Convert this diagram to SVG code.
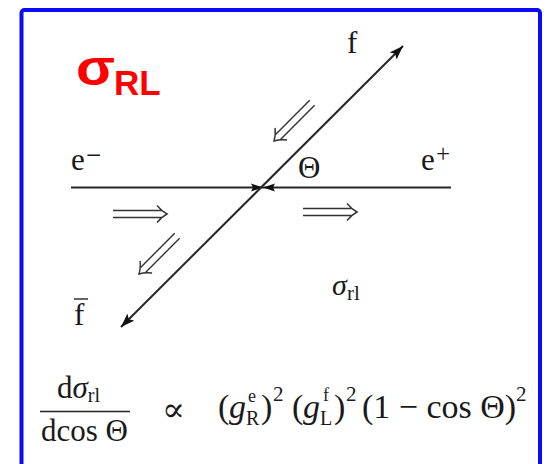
<svg xmlns="http://www.w3.org/2000/svg" xmlns:xlink="http://www.w3.org/1999/xlink" width="551" height="464" viewBox="0 0 551 464">
<style>
.serif{font-family:"Liberation Serif","DejaVu Serif",serif;fill:#1a1a1a}
.it{font-style:italic}
.ln{stroke:#262626;stroke-width:2;fill:none}
.dbl{stroke:#333;stroke-width:1.4;fill:none}
.title{font-family:"Liberation Sans",Arial,sans-serif;font-weight:bold;fill:#ff0000}
</style>
<defs>
<marker id="ah" markerUnits="userSpaceOnUse" markerWidth="16" markerHeight="12" refX="14" refY="5" orient="auto-start-reverse">
<path d="M0,0 L14,5 L0,10 L3,5 z" fill="#111"/>
</marker>
<path id="dblarrow" d="M -54 -3.5 H -5 M -54 3.5 H -5 M -10 -8.5 Q -5 -2.5 0 0 Q -5 2.5 -10 8.5"/>
</defs>
<rect x="0" y="0" width="551" height="464" fill="#fff"/>
<rect id="frame" x="21.5" y="10" width="518.5" height="480" rx="3" fill="none" stroke="#0a0af5" stroke-width="4"/>
<g id="title">
<text class="title" x="0" y="85" font-size="50" transform="translate(76,0) scale(1.14,1)">σ</text>
<text class="title" x="114" y="95" font-size="35">RL</text>
</g>
<g id="connectors">
<line id="beam" class="ln" x1="71" y1="187.5" x2="451" y2="187.5"/>
<polygon points="251,183.5 263,187.5 251,191.5 253,187.5" fill="#111"/>
<polygon points="275,183.5 263,187.5 275,191.5 273,187.5" fill="#111"/>
<line id="outgoing" class="ln" x1="121" y1="327" x2="403" y2="46" stroke-width="1.8" marker-start="url(#ah)" marker-end="url(#ah)"/>
<g class="dbl">
<use xlink:href="#dblarrow" transform="translate(167,214)"/>
<use xlink:href="#dblarrow" transform="translate(357,212)"/>
<use xlink:href="#dblarrow" transform="translate(274,141) rotate(135)"/>
<use xlink:href="#dblarrow" transform="translate(139,274) rotate(135)"/>
</g>
</g>
<g id="label-em">
<text class="serif" x="71" y="170" font-size="31">e</text>
<text class="serif" x="86" y="164" font-size="27">−</text>
</g>
<g id="label-ep">
<text class="serif" x="421" y="170" font-size="31">e</text>
<text class="serif" x="436" y="162" font-size="25">+</text>
</g>
<g id="label-theta"><text class="serif" x="298" y="178" font-size="31">Θ</text></g>
<g id="label-f"><text class="serif" x="347" y="53" font-size="31">f</text></g>
<g id="label-fbar">
<text class="serif" x="74" y="325" font-size="31">f</text>
<line x1="74" y1="299" x2="88" y2="299" stroke="#222" stroke-width="1.4"/>
</g>
<g id="label-sigma">
<text class="serif it" x="332" y="295" font-size="30">σ</text>
<text class="serif" x="347" y="300" font-size="21">rl</text>
</g>
<g id="equation">
<text class="serif" x="57" y="398" font-size="31">d<tspan class="it">σ</tspan><tspan font-size="20" dy="4">rl</tspan></text>
<line x1="40" y1="411.5" x2="130" y2="411.5" stroke="#222" stroke-width="1.5"/>
<text class="serif" x="41" y="441" font-size="31">dcos Θ</text>
<text class="serif" x="162" y="421" font-size="34">∝</text>
<text class="serif" font-size="34" y="418">
<tspan x="218">(</tspan><tspan class="it" x="229">g</tspan><tspan x="248" y="402" font-size="18">e</tspan><tspan x="246" y="425" font-size="20">R</tspan><tspan x="261" y="418">)</tspan><tspan x="273" y="401" font-size="21">2</tspan>
<tspan x="292" y="418">(</tspan><tspan class="it" x="303">g</tspan><tspan x="323" y="401" font-size="18">f</tspan><tspan x="320" y="425" font-size="20">L</tspan><tspan x="334" y="418">)</tspan><tspan x="346" y="401" font-size="21">2</tspan>
<tspan x="362" y="418">(1 − cos Θ)</tspan><tspan x="516" y="401" font-size="21">2</tspan>
</text>
</g>
</svg>
